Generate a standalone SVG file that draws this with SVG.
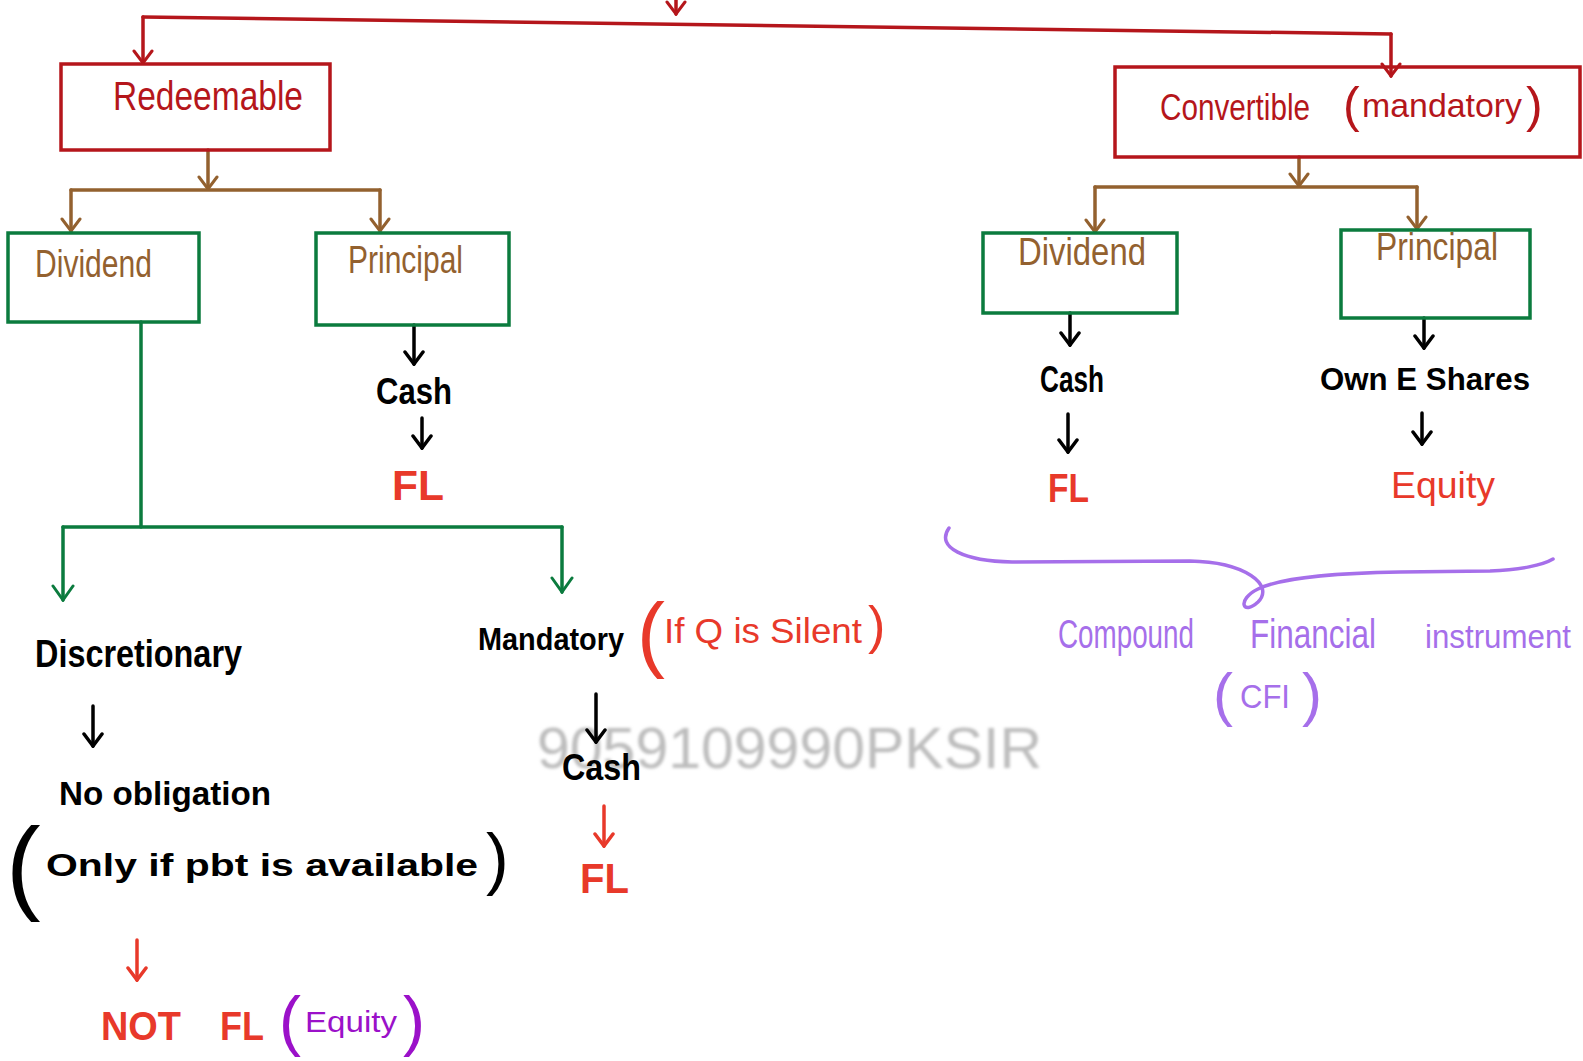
<svg xmlns="http://www.w3.org/2000/svg" width="1583" height="1061" viewBox="0 0 1583 1061">
  <defs>
    <style>
      .t { font-family: "Liberation Sans", "Noto Sans", sans-serif; }
      .b { font-weight: bold; }
      .box { fill: none; stroke-width: 3.5; }
      .redbox { stroke: #B5161B; }
      .greenbox { stroke: #0B7B3E; }
      .ln { fill: none; stroke-width: 3.5; stroke-linecap: round; stroke-linejoin: round; }
      .c-red { stroke: #B5161B; }
      .c-brown { stroke: #93612F; }
      .c-green { stroke: #0B7B3E; }
      .c-black { stroke: #000; }
      .c-bright { stroke: #E8392A; }
      .c-purple { stroke: #A66FEA; }
      .f-red { fill: #B5161B; }
      .f-brown { fill: #93612F; }
      .f-black { fill: #000; }
      .f-bright { fill: #E8392A; }
      .f-purple { fill: #A66FEA; }
      .f-violet { fill: #9B11C9; }
    </style>
    <marker id="ah-red" viewBox="-14 -12 16 24" markerWidth="16" markerHeight="24" refX="0" refY="0" orient="auto" markerUnits="userSpaceOnUse">
      <path d="M-12,-9 L0,0 L-12,9" fill="none" stroke="#B5161B" stroke-width="3" stroke-linecap="round"/>
    </marker>
    <marker id="ah-brown" viewBox="-14 -12 16 24" markerWidth="16" markerHeight="24" refX="0" refY="0" orient="auto" markerUnits="userSpaceOnUse">
      <path d="M-12,-9 L0,0 L-12,9" fill="none" stroke="#93612F" stroke-width="3" stroke-linecap="round"/>
    </marker>
    <marker id="ah-green" viewBox="-16 -13 18 26" markerWidth="18" markerHeight="26" refX="0" refY="0" orient="auto" markerUnits="userSpaceOnUse">
      <path d="M-14,-10 L0,0 L-14,10" fill="none" stroke="#0B7B3E" stroke-width="3" stroke-linecap="round"/>
    </marker>
    <marker id="ah-black" viewBox="-14 -12 16 24" markerWidth="16" markerHeight="24" refX="0" refY="0" orient="auto" markerUnits="userSpaceOnUse">
      <path d="M-12,-9 L0,0 L-12,9" fill="none" stroke="#000" stroke-width="3.5" stroke-linecap="round"/>
    </marker>
    <marker id="ah-bright" viewBox="-14 -12 16 24" markerWidth="16" markerHeight="24" refX="0" refY="0" orient="auto" markerUnits="userSpaceOnUse">
      <path d="M-12,-9 L0,0 L-12,9" fill="none" stroke="#E8392A" stroke-width="3.5" stroke-linecap="round"/>
    </marker>
    <filter id="soft" x="-5%" y="-20%" width="110%" height="140%">
      <feGaussianBlur stdDeviation="1.6"/>
    </filter>
  </defs>

  <rect width="1583" height="1061" fill="#fff"/>

  <!-- faint watermark behind the drawing -->
  <text class="t" x="537" y="768" font-size="58" fill="#bdbdbd" filter="url(#soft)" textLength="505" lengthAdjust="spacingAndGlyphs">9059109990PKSIR</text>

  <g id="connectors">
    <!-- top split into the two preference share types -->
    <path class="ln c-red" d="M676,0 L676,14" marker-end="url(#ah-red)"/>
    <path class="ln c-red" d="M143,17 L1391,34"/>
    <path class="ln c-red" d="M143,17 L143,63" marker-end="url(#ah-red)"/>
    <path class="ln c-red" d="M1391,34 L1391,76" marker-end="url(#ah-red)"/>

    <!-- Redeemable -> Dividend / Principal -->
    <path class="ln c-brown" d="M208,150 L208,189" marker-end="url(#ah-brown)"/>
    <path class="ln c-brown" d="M71,190 L380,190"/>
    <path class="ln c-brown" d="M71,190 L71,231" marker-end="url(#ah-brown)"/>
    <path class="ln c-brown" d="M380,190 L380,231" marker-end="url(#ah-brown)"/>

    <!-- Convertible -> Dividend / Principal -->
    <path class="ln c-brown" d="M1299,157 L1299,186" marker-end="url(#ah-brown)"/>
    <path class="ln c-brown" d="M1095,187 L1417,187"/>
    <path class="ln c-brown" d="M1095,187 L1095,232" marker-end="url(#ah-brown)"/>
    <path class="ln c-brown" d="M1417,187 L1417,229" marker-end="url(#ah-brown)"/>

    <!-- Redeemable / Principal chain -->
    <path class="ln c-black" d="M414,325 L414,364" marker-end="url(#ah-black)"/>
    <path class="ln c-black" d="M422,418 L422,448" marker-end="url(#ah-black)"/>

    <!-- Redeemable / Dividend split -->
    <path class="ln c-green" d="M141,322 L141,527"/>
    <path class="ln c-green" d="M63,527 L562,527"/>
    <path class="ln c-green" d="M63,527 L63,600" marker-end="url(#ah-green)"/>
    <path class="ln c-green" d="M562,527 L562,592" marker-end="url(#ah-green)"/>

    <!-- Discretionary chain -->
    <path class="ln c-black" d="M93,706 L93,746" marker-end="url(#ah-black)"/>
    <path class="ln c-bright" d="M137,940 L137,980" marker-end="url(#ah-bright)"/>

    <!-- Mandatory chain -->
    <path class="ln c-black" d="M596,694 L596,742" marker-end="url(#ah-black)"/>
    <path class="ln c-bright" d="M604,806 L604,846" marker-end="url(#ah-bright)"/>

    <!-- Convertible / Dividend chain -->
    <path class="ln c-black" d="M1070,313 L1070,345" marker-end="url(#ah-black)"/>
    <path class="ln c-black" d="M1068,414 L1068,452" marker-end="url(#ah-black)"/>

    <!-- Convertible / Principal chain -->
    <path class="ln c-black" d="M1424,318 L1424,348" marker-end="url(#ah-black)"/>
    <path class="ln c-black" d="M1422,413 L1422,444" marker-end="url(#ah-black)"/>

    <!-- brace grouping FL and Equity -->
    <path class="ln c-purple" stroke-width="3" d="M949,528 C935,548 965,561 1012,562 L1190,561 C1245,562 1275,585 1258,602 C1243,616 1236,600 1258,589 C1285,576 1345,573 1400,572 L1490,571 C1520,570 1543,565 1553,559"/>
  </g>

  <g id="redeemable">
    <rect class="box redbox" x="61" y="64" width="269" height="86"/>
    <text class="t f-red" x="113" y="110" font-size="40" textLength="190" lengthAdjust="spacingAndGlyphs">Redeemable</text>
  </g>

  <g id="convertible">
    <rect class="box redbox" x="1115" y="67" width="465" height="90"/>
    <text class="t f-red" x="1160" y="120" font-size="36" textLength="150" lengthAdjust="spacingAndGlyphs">Convertible</text>
    <text class="t f-red" x="1343" y="122" font-size="50">(</text>
    <text class="t f-red" x="1362" y="117" font-size="34" textLength="160" lengthAdjust="spacingAndGlyphs">mandatory</text>
    <text class="t f-red" x="1526" y="122" font-size="50">)</text>
  </g>

  <g id="dividend-redeemable">
    <rect class="box greenbox" x="8" y="233" width="191" height="89"/>
    <text class="t f-brown" x="35" y="277" font-size="38" textLength="117" lengthAdjust="spacingAndGlyphs">Dividend</text>
  </g>

  <g id="principal-redeemable">
    <rect class="box greenbox" x="316" y="233" width="193" height="92"/>
    <text class="t f-brown" x="348" y="273" font-size="38" textLength="115" lengthAdjust="spacingAndGlyphs">Principal</text>
  </g>

  <g id="dividend-convertible">
    <rect class="box greenbox" x="983" y="233" width="194" height="80"/>
    <text class="t f-brown" x="1018" y="265" font-size="38" textLength="128" lengthAdjust="spacingAndGlyphs">Dividend</text>
  </g>

  <g id="principal-convertible">
    <rect class="box greenbox" x="1341" y="230" width="189" height="88"/>
    <text class="t f-brown" x="1376" y="260" font-size="38" textLength="122" lengthAdjust="spacingAndGlyphs">Principal</text>
  </g>

  <g id="cash-redeemable">
    <text class="t b f-black" x="376" y="404" font-size="36" textLength="76" lengthAdjust="spacingAndGlyphs">Cash</text>
  </g>
  <g id="fl-redeemable">
    <text class="t b f-bright" x="392" y="500" font-size="42" textLength="52" lengthAdjust="spacingAndGlyphs">FL</text>
  </g>

  <g id="discretionary">
    <text class="t b f-black" x="35" y="667" font-size="38" textLength="207" lengthAdjust="spacingAndGlyphs">Discretionary</text>
  </g>
  <g id="no-obligation">
    <text class="t b f-black" x="59" y="805" font-size="34" textLength="212" lengthAdjust="spacingAndGlyphs">No obligation</text>
    <text class="t f-black" x="6" y="900" font-size="104">(</text>
    <text class="t b f-black" x="46" y="876" font-size="32" textLength="432" lengthAdjust="spacingAndGlyphs">Only if pbt is available</text>
    <text class="t f-black" x="486" y="882" font-size="68">)</text>
  </g>
  <g id="not-fl">
    <text class="t b f-bright" x="101" y="1040" font-size="40" textLength="80" lengthAdjust="spacingAndGlyphs">NOT</text>
    <text class="t b f-bright" x="220" y="1040" font-size="40" textLength="44" lengthAdjust="spacingAndGlyphs">FL</text>
    <text class="t f-violet" x="279" y="1043" font-size="66">(</text>
    <text class="t f-violet" x="305" y="1032" font-size="30" textLength="92" lengthAdjust="spacingAndGlyphs">Equity</text>
    <text class="t f-violet" x="403" y="1043" font-size="66">)</text>
  </g>

  <g id="mandatory">
    <text class="t b f-black" x="478" y="650" font-size="31" textLength="146" lengthAdjust="spacingAndGlyphs">Mandatory</text>
    <text class="t f-bright" x="637" y="662" font-size="84" font-weight="300">(</text>
    <text class="t f-bright" x="664" y="643" font-size="35" textLength="198" lengthAdjust="spacingAndGlyphs">If Q is Silent</text>
    <text class="t f-bright" x="868" y="643" font-size="52">)</text>
  </g>
  <g id="cash-mandatory">
    <text class="t b f-black" x="562" y="780" font-size="36" textLength="79" lengthAdjust="spacingAndGlyphs">Cash</text>
  </g>
  <g id="fl-mandatory">
    <text class="t b f-bright" x="580" y="893" font-size="42" textLength="49" lengthAdjust="spacingAndGlyphs">FL</text>
  </g>

  <g id="cash-convertible">
    <text class="t b f-black" x="1040" y="392" font-size="36" textLength="64" lengthAdjust="spacingAndGlyphs">Cash</text>
  </g>
  <g id="fl-convertible">
    <text class="t b f-bright" x="1048" y="502" font-size="40" textLength="41" lengthAdjust="spacingAndGlyphs">FL</text>
  </g>

  <g id="own-shares">
    <text class="t b f-black" x="1320" y="390" font-size="32" textLength="210" lengthAdjust="spacingAndGlyphs">Own  E  Shares</text>
  </g>
  <g id="equity-convertible">
    <text class="t f-bright" x="1391" y="498" font-size="36" textLength="104" lengthAdjust="spacingAndGlyphs">Equity</text>
  </g>

  <g id="cfi">
    <text class="t f-purple" x="1058" y="648" font-size="40" textLength="136" lengthAdjust="spacingAndGlyphs">Compound</text>
    <text class="t f-purple" x="1250" y="648" font-size="40" textLength="126" lengthAdjust="spacingAndGlyphs">Financial</text>
    <text class="t f-purple" x="1425" y="648" font-size="33" textLength="146" lengthAdjust="spacingAndGlyphs">instrument</text>
    <text class="t f-purple" x="1213" y="715" font-size="60" font-weight="300">(</text>
    <text class="t f-purple" x="1240" y="708" font-size="34" textLength="50" lengthAdjust="spacingAndGlyphs">CFI</text>
    <text class="t f-purple" x="1302" y="715" font-size="60" font-weight="300">)</text>
  </g>
</svg>
